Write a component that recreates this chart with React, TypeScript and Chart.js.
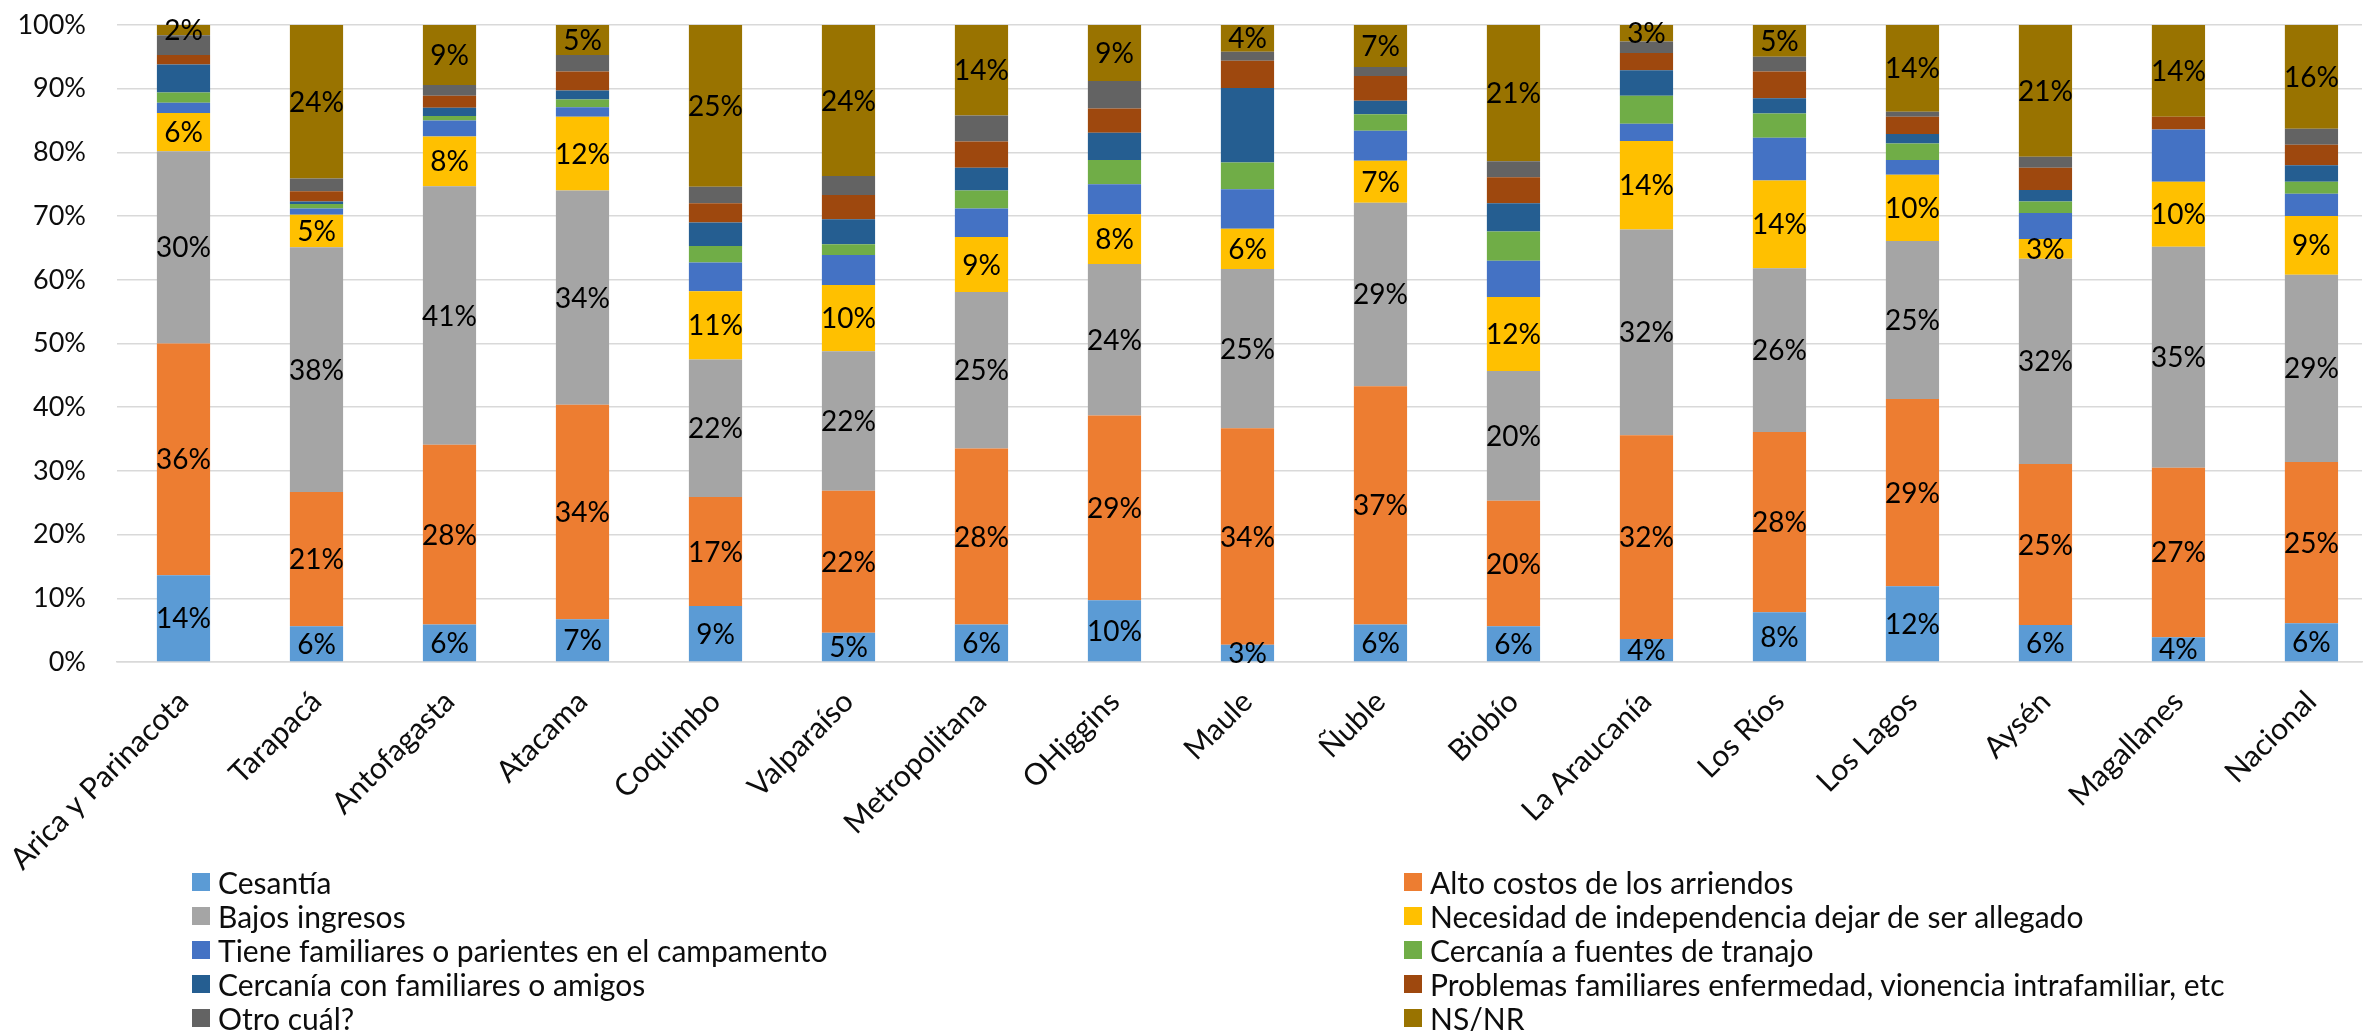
import React, { useEffect, useRef } from 'react';
import { Chart, registerables } from 'chart.js';

Chart.register(...registerables);

const categories = [
  'Arica y Parinacota', 'Tarapacá', 'Antofagasta', 'Atacama', 'Coquimbo', 'Valparaíso',
  'Metropolitana', 'OHiggins', 'Maule', 'Ñuble', 'Biobío', 'La Araucanía', 'Los Ríos',
  'Los Lagos', 'Aysén', 'Magallanes', 'Nacional',
];

const seriesNames = [
  'Cesantía',
  'Alto costos de los arriendos',
  'Bajos ingresos',
  'Necesidad de independencia dejar de ser allegado',
  'Tiene familiares o parientes en el campamento',
  'Cercanía a fuentes de tranajo',
  'Cercanía con familiares o amigos',
  'Problemas familiares enfermedad, vionencia intrafamiliar, etc',
  'Otro cuál?',
  'NS/NR',
];

const cesantia = [13.6, 5.6, 5.9, 6.7, 8.8, 4.6, 5.9, 9.7, 2.7, 5.9, 5.6, 3.6, 7.8, 11.9, 5.8, 3.9, 6.1];
const altoCostos = [36.4, 21.1, 28.2, 33.7, 17.1, 22.3, 27.6, 29.0, 34.0, 37.4, 19.7, 32.0, 28.3, 29.4, 25.3, 26.6, 25.3];
const bajosIngresos = [30.2, 38.4, 40.6, 33.6, 21.6, 21.9, 24.6, 23.8, 25.0, 28.8, 20.4, 32.3, 25.7, 24.8, 32.2, 34.7, 29.4];
const necesidad = [6.0, 5.1, 7.8, 11.6, 10.7, 10.4, 8.6, 7.8, 6.3, 6.6, 11.6, 13.9, 13.8, 10.4, 3.1, 10.2, 9.2];
const tieneFamiliares = [1.6, 1.0, 2.5, 1.5, 4.5, 4.7, 4.5, 4.7, 6.2, 4.7, 5.7, 2.7, 6.7, 2.3, 4.1, 8.2, 3.5];
const cercaniaFuentes = [1.6, 0.7, 0.7, 1.2, 2.6, 1.7, 2.8, 3.8, 4.2, 2.6, 4.6, 4.4, 3.8, 2.6, 1.8, 0, 1.9];
const cercaniaFamiliares = [4.4, 0.4, 1.3, 1.4, 3.7, 3.9, 3.6, 4.3, 11.7, 2.1, 4.4, 4.0, 2.4, 1.5, 1.8, 0, 2.6];
const problemas = [1.5, 1.6, 1.9, 3.0, 3.0, 3.8, 4.1, 3.8, 4.3, 3.9, 4.1, 2.7, 4.2, 2.7, 3.5, 2.0, 3.2];
const otro = [3.1, 2.0, 1.7, 2.6, 2.6, 3.0, 4.1, 4.3, 1.4, 1.4, 2.5, 1.8, 2.3, 0.8, 1.7, 0, 2.5];
const nsnr = [1.6, 24.1, 9.4, 4.7, 25.4, 23.7, 14.2, 8.8, 4.2, 6.6, 21.4, 2.6, 5.0, 13.6, 20.7, 14.4, 16.3];

const seriesValues = [
  cesantia, altoCostos, bajosIngresos, necesidad, tieneFamiliares,
  cercaniaFuentes, cercaniaFamiliares, problemas, otro, nsnr,
];

const seriesColors = [
  '#5B9BD5', '#ED7D31', '#A5A5A5', '#FFC000', '#4472C4',
  '#70AD47', '#255E91', '#9E480E', '#636363', '#997300',
];

const labeledSeries = [0, 1, 2, 3, 9];
const yTicks = [0, 10, 20, 30, 40, 50, 60, 70, 80, 90, 100];

const FONT = 'Lato, "Liberation Sans", sans-serif';
const TEXT = '#0d0d0d';

const dataLabelPlugin = {
  id: 'segmentLabels',
  afterDatasetsDraw(chart: any) {
    const ctx = chart.ctx;
    ctx.save();
    ctx.font = `28px ${FONT}`;
    ctx.fillStyle = '#000';
    ctx.textAlign = 'center';
    ctx.textBaseline = 'middle';
    labeledSeries.forEach((di) => {
      const meta = chart.getDatasetMeta(di);
      meta.data.forEach((el: any, i: number) => {
        const v = seriesValues[di][i];
        if (!v) return;
        const { x, y, base } = el.getProps(['x', 'y', 'base'], true);
        ctx.fillText(`${Math.round(v)}%`, x, (y + base) / 2 + 1);
      });
    });
    ctx.restore();
  },
};

function ChartCanvas() {
  const ref = useRef<HTMLCanvasElement | null>(null);
  useEffect(() => {
    if (!ref.current) return;
    const chart = new Chart(ref.current, {
      type: 'bar',
      data: {
        labels: categories,
        datasets: seriesNames.map((name, i) => ({
          label: name,
          data: seriesValues[i],
          backgroundColor: seriesColors[i],
          borderWidth: 0,
          barPercentage: 1,
          categoryPercentage: 0.4,
        })),
      },
      options: {
        animation: false,
        responsive: false,
        layout: { padding: { top: 25, right: 7, left: 0, bottom: 0 } },
        plugins: { legend: { display: false }, tooltip: { enabled: false } },
        scales: {
          x: {
            stacked: true,
            offset: true,
            grid: { display: false, drawTicks: false },
            border: { display: true, color: '#D9D9D9', width: 1.5 },
            ticks: {
              minRotation: 45,
              maxRotation: 45,
              autoSkip: false,
              padding: 22,
              color: TEXT,
              font: { family: FONT, size: 30 },
            },
            afterBuildTicks: (s: any) => { s._valueRange = 16.88; },
            afterFit: (s: any) => {
              s.height = 369;
              s.paddingLeft = 0;
              s.paddingRight = 0;
            },
          },
          y: {
            stacked: true,
            min: 0,
            max: 100,
            afterBuildTicks: (s: any) => { s.ticks = yTicks.map((v) => ({ value: v })); },
            ticks: {
              padding: 31,
              color: TEXT,
              font: { family: FONT, size: 27 },
              callback: (v: any) => `${v}%`,
            },
            grid: { color: '#D9D9D9', lineWidth: 1.5, drawTicks: false },
            border: { display: false },
            afterFit: (s: any) => {
              s.width = 117;
              s.paddingTop = 0;
              s.paddingBottom = 0;
            },
          },
        },
      },
      plugins: [dataLabelPlugin],
    });
    return () => chart.destroy();
  }, []);
  return <canvas ref={ref} width={2369} height={1031} style={{ display: 'block', width: 2369, height: 1031 }} />;
}

function Legend() {
  const rows = [0, 1, 2, 3, 4];
  const colLeft = [192, 1404];
  return (
    <>
      {rows.map((r) =>
        [0, 1].map((c) => {
          const idx = r * 2 + c;
          const top = 882 + r * 33.9;
          return (
            <div
              key={idx}
              style={{
                position: 'absolute',
                left: colLeft[c],
                top: top - 17,
                height: 34,
                display: 'flex',
                alignItems: 'center',
                whiteSpace: 'nowrap',
                fontFamily: FONT,
                fontSize: 30,
                color: TEXT,
              }}
            >
              <span style={{ display: 'inline-block', width: 18, height: 18, background: seriesColors[idx], marginRight: 8 }} />
              <span>{seriesNames[idx]}</span>
            </div>
          );
        })
      )}
    </>
  );
}

export default function App() {
  return (
    <div style={{ position: 'fixed', left: 0, top: 0, width: 2369, height: 1031, background: '#fff', overflow: 'hidden' }}>
      <ChartCanvas />
      <Legend />
    </div>
  );
}
